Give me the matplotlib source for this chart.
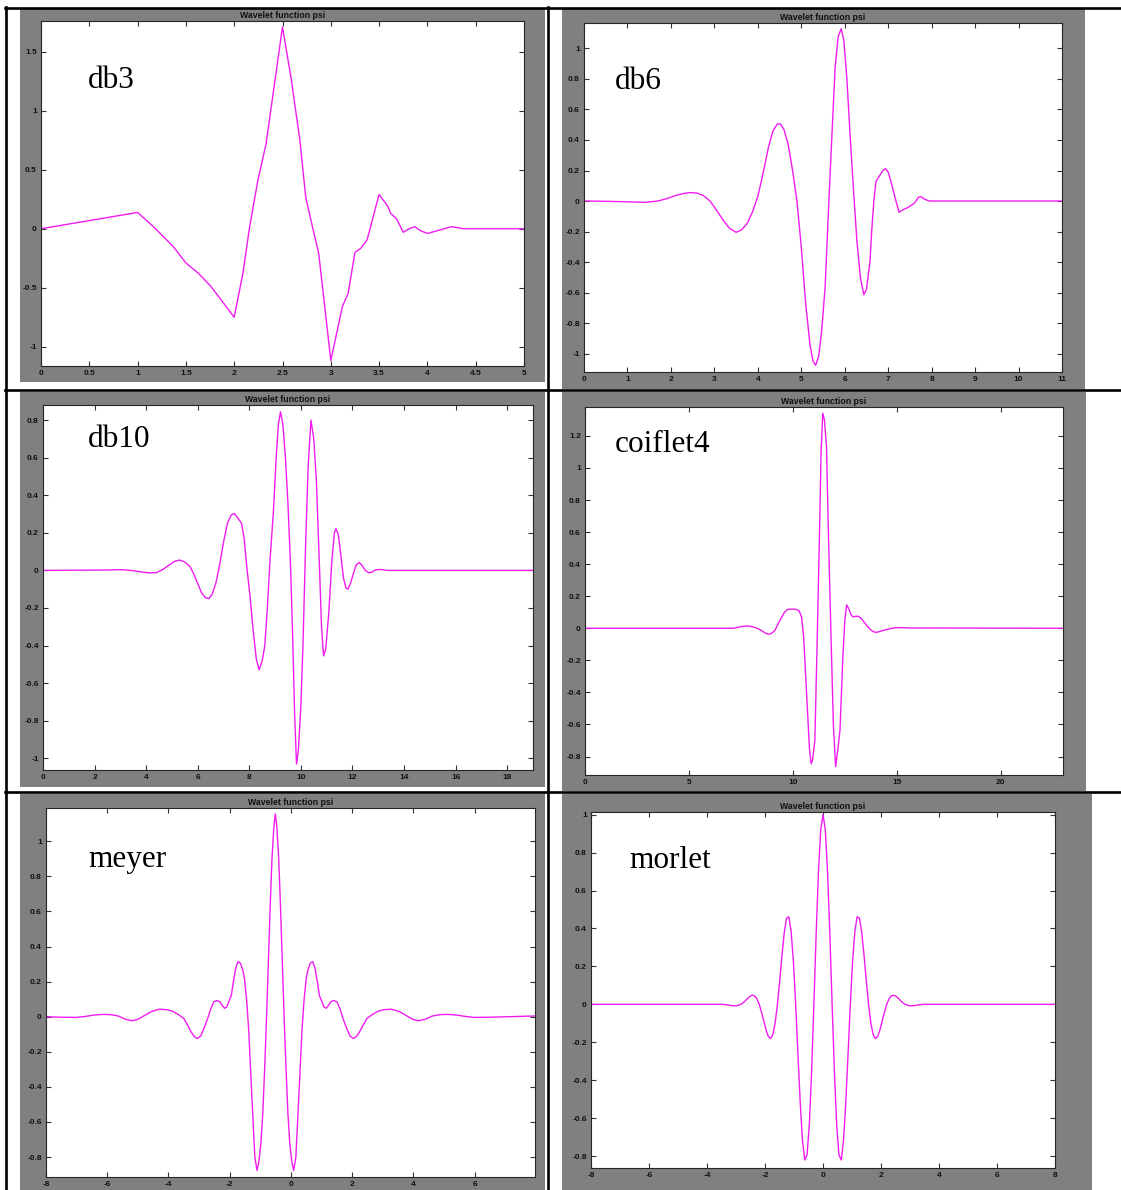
import matplotlib
matplotlib.use('Agg')
import matplotlib.pyplot as plt
from matplotlib.patches import Rectangle
from matplotlib.lines import Line2D

W, H = 1121, 1190

# wavelet function samples (x, psi)
db3_x = [0, 1.0, 1.165, 1.37, 1.5, 1.63, 1.76, 2.0, 2.09, 2.16, 2.245, 2.33, 2.5, 2.59, 2.645,
         2.68, 2.74, 2.81, 2.875, 3.0, 3.12, 3.18, 3.25, 3.31, 3.375, 3.5, 3.59, 3.62, 3.68,
         3.75, 3.81, 3.87, 3.93, 4.0, 4.25, 4.375, 5.0]
db3_y = [0, 0.138, 0.017, -0.152, -0.29, -0.378, -0.49, -0.75, -0.378, 0.017, 0.41, 0.72, 1.71, 1.27, 0.95,
         0.75, 0.27, 0.017, -0.21, -1.117, -0.66, -0.547, -0.2, -0.166, -0.096, 0.29, 0.19, 0.13, 0.085,
         -0.03, 0.0, 0.017, -0.017, -0.04, 0.017, 0.0, 0.0]

db6_x = [0, 0.5, 1.0, 1.4, 1.7, 1.9, 2.1, 2.3, 2.45, 2.6, 2.75, 2.9, 3.05, 3.2, 3.35, 3.5,
         3.62, 3.75, 3.88, 4.0, 4.12, 4.25, 4.35, 4.45, 4.52, 4.6, 4.7, 4.8, 4.9, 5.0, 5.1,
         5.2, 5.27, 5.33, 5.4, 5.47, 5.55, 5.62, 5.7, 5.78, 5.85, 5.92, 5.98, 6.05, 6.13, 6.2,
         6.28, 6.36, 6.44, 6.5, 6.58, 6.62, 6.67, 6.72, 6.8, 6.88, 6.94, 7.0, 7.08, 7.16, 7.25,
         7.32, 7.45, 7.6, 7.7, 7.76, 7.85, 7.95, 11.0]
db6_y = [0, -0.002, -0.005, -0.009, 0.0, 0.015, 0.035, 0.05, 0.055, 0.052, 0.035, 0.0, -0.06, -0.125, -0.18, -0.205,
         -0.19, -0.15, -0.07, 0.03, 0.18, 0.36, 0.46, 0.505, 0.505, 0.47, 0.37, 0.2, 0.0, -0.3, -0.67,
         -0.94, -1.05, -1.077, -1.02, -0.85, -0.56, -0.1, 0.4, 0.88, 1.08, 1.13, 1.05, 0.8, 0.4, 0.08,
         -0.26, -0.5, -0.615, -0.58, -0.4, -0.2, 0.0, 0.13, 0.165, 0.2, 0.212, 0.19, 0.11, 0.02, -0.074,
         -0.06, -0.043, -0.015, 0.025, 0.028, 0.01, 0.0, 0.0]

db10_x = [0, 2.5, 3.0, 3.4, 3.8, 4.1, 4.4, 4.65, 4.9, 5.1, 5.3, 5.5, 5.7, 5.85, 6.0, 6.15, 6.3, 6.43,
          6.55, 6.7, 6.85, 7.0, 7.15, 7.3, 7.42, 7.55, 7.7, 7.8, 7.9, 8.03, 8.15, 8.27, 8.38, 8.5,
          8.6, 8.7, 8.8, 8.93, 9.05, 9.13, 9.21, 9.3, 9.4, 9.5, 9.6, 9.68, 9.76, 9.83, 9.9, 10.0,
          10.08, 10.18, 10.28, 10.39, 10.5, 10.6, 10.7, 10.8, 10.88, 10.96, 11.08, 11.2, 11.3, 11.36,
          11.45, 11.55, 11.65, 11.75, 11.82, 11.92, 12.05, 12.15, 12.26, 12.38, 12.5, 12.62, 12.75,
          12.9, 13.1, 13.35, 19.0]
db10_y = [0, 0.002, 0.004, 0.0, -0.008, -0.013, -0.012, 0.005, 0.03, 0.048, 0.055, 0.045, 0.02, -0.02, -0.07, -0.12, -0.145, -0.15,
          -0.13, -0.07, 0.03, 0.15, 0.25, 0.295, 0.303, 0.28, 0.25, 0.17, 0.02, -0.14, -0.32, -0.47, -0.53, -0.48,
          -0.4, -0.2, 0.05, 0.303, 0.62, 0.78, 0.844, 0.78, 0.6, 0.35, 0.02, -0.35, -0.78, -1.03, -0.96, -0.72,
          -0.4, 0.126, 0.55, 0.8, 0.7, 0.48, 0.1, -0.3, -0.455, -0.42, -0.229, 0.05, 0.2, 0.223,
          0.19, 0.08, -0.04, -0.095, -0.1, -0.07, -0.01, 0.03, 0.042, 0.025, 0.0, -0.012, -0.01,
          0.003, 0.005, 0.0, 0.0]

coif4_x = [0, 7.15, 7.4, 7.7, 7.9, 8.1, 8.3, 8.5, 8.7, 8.85, 9.0, 9.15, 9.3, 9.45, 9.6, 9.75, 9.95,
           10.15, 10.3, 10.42, 10.52, 10.6, 10.7, 10.8, 10.88, 10.95, 11.06, 11.15, 11.27, 11.36, 11.44,
           11.52, 11.62, 11.72, 11.83, 11.95, 12.06, 12.17, 12.27, 12.4, 12.5, 12.59, 12.7, 12.8, 12.9,
           13.02, 13.15, 13.3, 13.45, 13.6, 13.75, 13.9, 14.05, 14.3, 14.6, 14.9, 15.2, 15.6, 23.0]
coif4_y = [0, 0, 0.008, 0.014, 0.014, 0.008, 0.0, -0.015, -0.032, -0.037, -0.03, -0.01, 0.03, 0.065, 0.1, 0.117, 0.12,
           0.118, 0.11, 0.07, -0.05, -0.25, -0.5, -0.75, -0.845, -0.82, -0.7, -0.2, 0.509, 1.1, 1.341,
           1.3, 1.133, 0.55, -0.01, -0.6, -0.863, -0.75, -0.634, -0.2, 0.05, 0.146, 0.12, 0.085, 0.07,
           0.075, 0.075, 0.06, 0.035, 0.01, -0.01, -0.023, -0.025, -0.015, -0.005, 0.003, 0.004, 0.002, 0.0]

meyer_x = [-8.0, -7.5, -7.0, -6.7, -6.4, -6.15, -5.9, -5.64, -5.4, -5.18, -5.0, -4.8, -4.55, -4.3,
           -4.05, -3.85, -3.66, -3.5, -3.37, -3.25, -3.15, -3.05, -2.95, -2.84, -2.72, -2.62, -2.52,
           -2.42, -2.32, -2.25, -2.17, -2.1, -2.03, -1.95, -1.88, -1.8, -1.73, -1.65, -1.58, -1.52,
           -1.45, -1.38, -1.32, -1.25, -1.18, -1.11, -1.05, -0.98, -0.92, -0.86, -0.8, -0.74, -0.68,
           -0.62, -0.56, -0.51, -0.46, -0.40, -0.34, -0.28, -0.22, -0.16, -0.10, -0.04, 0.03, 0.09,
           0.16, 0.23, 0.30, 0.36, 0.43, 0.50, 0.56, 0.63, 0.71, 0.78, 0.86, 0.93, 1.01, 1.08, 1.15,
           1.23, 1.30, 1.40, 1.50, 1.60, 1.70, 1.82, 1.93, 2.03, 2.13, 2.23, 2.35, 2.48, 2.64, 2.83,
           3.03, 3.28, 3.53, 3.78, 3.98, 4.16, 4.38, 4.62, 4.88, 5.13, 5.38, 5.68, 5.98, 6.48, 7.97]
meyer_y = [0, -0.003, -0.004, 0.002, 0.01, 0.013, 0.012, 0.004, -0.015, -0.023, -0.015, 0.005, 0.03, 0.043,
           0.04, 0.03, 0.01, -0.01, -0.05, -0.09, -0.115, -0.124, -0.11, -0.067, -0.01, 0.045, 0.085,
           0.092, 0.085, 0.065, 0.048, 0.055, 0.086, 0.12, 0.2, 0.28, 0.314, 0.305, 0.27, 0.22,
           0.1, -0.076, -0.3, -0.55, -0.8, -0.876, -0.83, -0.72, -0.55, -0.3, -0.02, 0.3, 0.62,
           0.9, 1.08, 1.156, 1.08, 0.9, 0.62, 0.3, -0.02, -0.3, -0.55, -0.72, -0.83, -0.876,
           -0.8, -0.55, -0.3, -0.076, 0.1, 0.22, 0.27, 0.305, 0.314, 0.28, 0.2, 0.12, 0.086, 0.055, 0.048,
           0.065, 0.085, 0.092, 0.085, 0.045, -0.01, -0.067, -0.11, -0.124, -0.115, -0.09, -0.05, -0.01, 0.01, 0.03,
           0.04, 0.043, 0.03, 0.005, -0.015, -0.023, -0.015, 0.004, 0.012, 0.013, 0.01, 0.002, -0.004, -0.003, 0.004]

morlet_x = [-8.0, -3.6, -3.456, -3.299, -3.142, -2.985, -2.827, -2.749, -2.67, -2.592, -2.513, -2.435,
            -2.356, -2.278, -2.199, -2.121, -2.042, -1.963, -1.885, -1.806, -1.728, -1.649, -1.571,
            -1.492, -1.414, -1.335, -1.257, -1.178, -1.1, -1.021, -0.942, -0.864, -0.785, -0.707,
            -0.628, -0.55, -0.471, -0.393, -0.314, -0.236, -0.157, -0.079, 0.0,
            0.079, 0.157, 0.236, 0.314, 0.393, 0.471, 0.55, 0.628, 0.707, 0.785, 0.864, 0.942,
            1.021, 1.1, 1.178, 1.257, 1.335, 1.414, 1.492, 1.571, 1.649, 1.728, 1.806, 1.885,
            1.963, 2.042, 2.121, 2.199, 2.278, 2.356, 2.435, 2.513, 2.592, 2.67, 2.749, 2.827,
            2.985, 3.142, 3.299, 3.456, 3.6, 8.0]
morlet_y = [0, 0, 0, -0.003, -0.007, -0.008, 0, 0.009, 0.02, 0.032, 0.043, 0.048,
            0.044, 0.029, 0, -0.04, -0.088, -0.135, -0.169, -0.181, -0.159, -0.098, 0,
            0.126, 0.26, 0.379, 0.454, 0.462, 0.386, 0.227, 0, -0.263, -0.519, -0.72,
            -0.821, -0.794, -0.633, -0.354, 0, 0.372, 0.698, 0.921, 1.0,
            0.921, 0.698, 0.372, 0, -0.354, -0.633, -0.794, -0.821, -0.72, -0.519, -0.263, 0,
            0.227, 0.386, 0.462, 0.454, 0.379, 0.26, 0.126, 0, -0.098, -0.159, -0.181, -0.169,
            -0.135, -0.088, -0.04, 0, 0.029, 0.044, 0.048, 0.043, 0.032, 0.02, 0.009, 0,
            -0.008, -0.007, -0.003, 0, 0, 0]

names = ['db3', 'db6', 'db10', 'coiflet4', 'meyer', 'morlet']
series = [(db3_x, db3_y), (db6_x, db6_y), (db10_x, db10_y),
          (coif4_x, coif4_y), (meyer_x, meyer_y), (morlet_x, morlet_y)]

xticks = [[0, 0.5, 1, 1.5, 2, 2.5, 3, 3.5, 4, 4.5, 5],
          [0, 1, 2, 3, 4, 5, 6, 7, 8, 9, 10, 11],
          [0, 2, 4, 6, 8, 10, 12, 14, 16, 18],
          [0, 5, 10, 15, 20],
          [-8, -6, -4, -2, 0, 2, 4, 6],
          [-8, -6, -4, -2, 0, 2, 4, 6, 8]]
yticks = [[-1, -0.5, 0, 0.5, 1, 1.5],
          [-1, -0.8, -0.6, -0.4, -0.2, 0, 0.2, 0.4, 0.6, 0.8, 1],
          [-1, -0.8, -0.6, -0.4, -0.2, 0, 0.2, 0.4, 0.6, 0.8],
          [-0.8, -0.6, -0.4, -0.2, 0, 0.2, 0.4, 0.6, 0.8, 1, 1.2],
          [-0.8, -0.6, -0.4, -0.2, 0, 0.2, 0.4, 0.6, 0.8, 1],
          [-0.8, -0.6, -0.4, -0.2, 0, 0.2, 0.4, 0.6, 0.8, 1]]

# axis ranges as shown by the plotting tool
xlims = [(0, 5), (0, 11), (0, 19), (0, 23), (-8, 7.97), (-8, 8)]
ylims = [(-1.163, 1.76), (-1.121, 1.167), (-1.062, 0.88), (-0.915, 1.38), (-0.914, 1.19), (-0.863, 1.014)]

# pixel layout: grey figure frame, white plot box, name label (left, baseline)
frames = [(20, 9, 545, 382), (562, 9, 1085, 389), (20, 392, 545, 787),
          (562, 392, 1086, 791), (20, 794, 545, 1190), (562, 794, 1092, 1190)]
boxes = [(41, 21, 524, 366), (584, 23, 1062, 372), (43, 405, 533, 770),
         (585, 407, 1063, 775), (46, 808, 535, 1177), (591, 812, 1055, 1168)]
label_pos = [(88, 88), (615, 89), (88, 447), (615, 452), (88, 867), (629, 868)]


def rect(x0, y0, x1, y1):
    return [x0 / W, 1 - y1 / H, (x1 - x0) / W, (y1 - y0) / H]


fig = plt.figure(figsize=(W / 100, H / 100), dpi=100)
fig.patch.set_facecolor('white')

for i in range(6):
    fx0, fy0, fx1, fy1 = frames[i]
    fig.add_artist(Rectangle((fx0 / W, 1 - fy1 / H), (fx1 - fx0) / W, (fy1 - fy0) / H,
                             transform=fig.transFigure, facecolor='#808080', edgecolor='none', zorder=0))

    ax = fig.add_axes(rect(*boxes[i]))
    ax.set_facecolor('white')
    x, y = series[i]
    ax.plot(x, y, color='#f01cf0', lw=1.0)
    ax.set_xlim(*xlims[i])
    ax.set_ylim(*ylims[i])
    ax.set_xticks(xticks[i])
    ax.set_yticks(yticks[i])
    ax.set_xticklabels(['%g' % v for v in xticks[i]])
    ax.set_yticklabels(['%g' % v for v in yticks[i]])
    ax.tick_params(direction='in', top=True, right=True, length=3.5, width=0.8,
                   color='#333333', labelsize=6, pad=3, labelcolor='#111111')
    for lab in ax.get_xticklabels() + ax.get_yticklabels():
        lab.set_fontweight('bold')
        lab.set_family('Liberation Sans')
    for sp in ax.spines.values():
        sp.set_color('#262626')
        sp.set_linewidth(0.8)
    ax.set_title('Wavelet function psi', fontsize=6.3, fontweight='bold',
                 family='Liberation Sans', pad=2.5, color='#111111')

    lx, ly = label_pos[i]
    fig.text(lx / W, 1 - ly / H, names[i], family='Liberation Serif', fontsize=22.5,
             ha='left', va='baseline', color='black')

# table rules around the cells
lw = 1.9
for yy in [7.5, 390.5, 792]:
    fig.add_artist(Line2D([5 / W, 1], [1 - yy / H, 1 - yy / H], transform=fig.transFigure,
                          color='black', lw=lw, zorder=5))
for xx in [6, 548]:
    fig.add_artist(Line2D([xx / W, xx / W], [1 - 6.5 / H, 0], transform=fig.transFigure,
                          color='black', lw=lw, zorder=5))

fig.savefig('out.png', dpi=100)
